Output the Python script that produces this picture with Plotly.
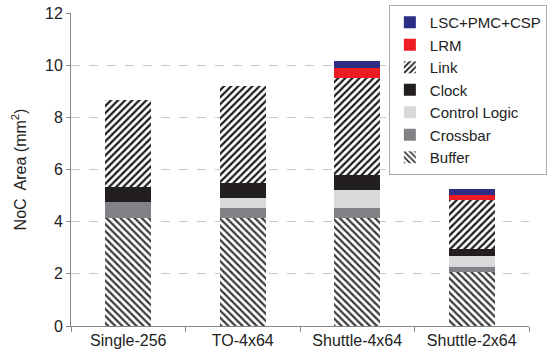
import plotly.graph_objects as go

categories = ["Single-256", "TO-4x64", "Shuttle-4x64", "Shuttle-2x64"]
buffer = [4.14, 4.14, 4.13, 2.06]
crossbar = [0.61, 0.38, 0.41, 0.19]
control_logic = [0.0, 0.40, 0.67, 0.43]
clock = [0.57, 0.58, 0.59, 0.28]
link = [3.33, 3.70, 3.72, 1.87]
lrm = [0.0, 0.0, 0.38, 0.20]
lsc = [0.0, 0.0, 0.25, 0.22]

fig = go.Figure()

def add(name, vals, color=None, pattern=None, fg=None):
    marker = dict(line=dict(width=0))
    if pattern:
        marker["color"] = "white"
        marker["pattern"] = dict(shape=pattern, fgcolor=fg, bgcolor="white",
                                 size=5, solidity=0.45, fillmode="replace")
    else:
        marker["color"] = color
    fig.add_trace(go.Bar(x=categories, y=vals, name=name, marker=marker, width=0.4))

add("Buffer", buffer, pattern="\\", fg="#3a3a3a")
add("Crossbar", crossbar, color="#808285")
add("Control Logic", control_logic, color="#D8D9DA")
add("Clock", clock, color="#231F20")
add("Link", link, pattern="/", fg="#1a1a1a")
add("LRM", lrm, color="#ED1C24")
add("LSC+PMC+CSP", lsc, color="#2B2E83")

fig.update_layout(
    barmode="stack",
    width=549, height=358,
    margin=dict(l=71, r=20, t=13, b=32, autoexpand=False),
    paper_bgcolor="white", plot_bgcolor="white",
    font=dict(family="Liberation Sans, Arial", size=16, color="#222"),
    legend=dict(
        x=1.039, y=1.0256, xanchor="right", yanchor="top",
        traceorder="reversed",
        bordercolor="#aaaaaa", borderwidth=1, bgcolor="white",
        font=dict(size=15), tracegroupgap=0, itemwidth=30,
    ),
    xaxis=dict(
        showline=True, linecolor="#888", linewidth=1,
        ticks="outside", tickson="boundaries", ticklen=5, tickcolor="#888",
        tickfont=dict(size=16),
    ),
    yaxis=dict(
        range=[0, 12], dtick=2,
        showline=True, linecolor="#888", linewidth=1,
        ticks="outside", ticklen=4, tickcolor="#888",
        showgrid=True, gridcolor="#c8c8c8", griddash="dash", gridwidth=1,
        tickfont=dict(size=16),
        title=dict(text="NoC  Area (mm<sup>2</sup>)", font=dict(size=16), standoff=14),
        zeroline=False,
    ),
)

fig.write_html("out.html", config={"displayModeBar": False},
               post_script="document.body.style.margin='0';")
